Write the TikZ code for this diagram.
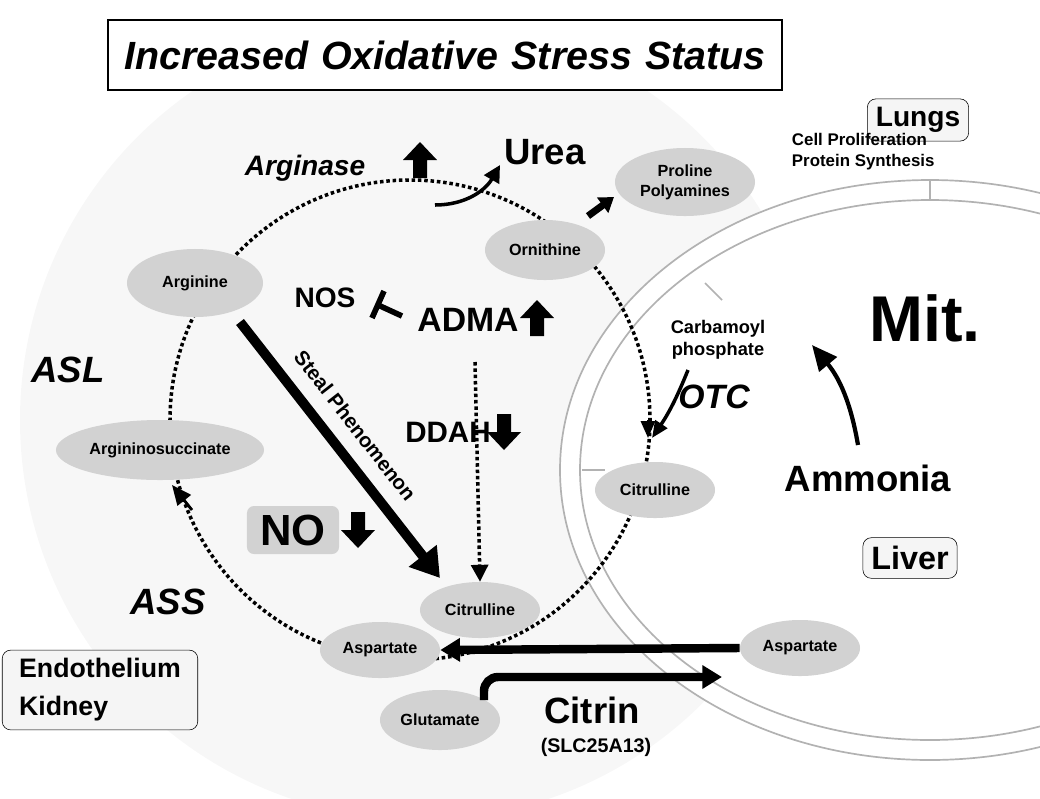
\documentclass[tikz,border=0pt]{standalone}
\usepackage{fontspec}
\setmainfont{Liberation Sans}
\usetikzlibrary{shapes.geometric,arrows.meta}
\begin{document}
\begin{tikzpicture}[x=0.025cm,y=-0.025cm,
  ov/.style={ellipse,fill=gray!35,inner sep=1pt,font=\bfseries\fontsize{11.5}{14}\selectfont},
  box/.style={draw,rounded corners=6pt,fill=gray!8,font=\bfseries\fontsize{20}{24}\selectfont,inner sep=6pt,align=left},
  dots/.style={line width=2.5pt,dotted},
  pics/fat/.style={code={\fill[black] (-7,18) -- (-7,0) -- (-17,0) -- (0,-18) -- (17,0) -- (7,0) -- (7,18) -- cycle;}}]
\useasboundingbox (0,0) rectangle (1040,798);
\fill[gray!6] (420,420) circle (400);
% mitochondrion
\begin{scope}
\clip (0,0) rectangle (1040,798);
\draw[gray!60,line width=1.2pt,fill=white] (930,470) ellipse (370 and 290);
\draw[gray!60,line width=1.2pt] (930,470) ellipse (350 and 270);
\draw[gray!60,line width=1.2pt] (705,283) -- (722,300);
\draw[gray!60,line width=1.2pt] (582,470) -- (605,470);
\draw[gray!60,line width=1.2pt] (930,180) -- (930,200);
\end{scope}
% title
\node[draw,line width=1.5pt,fill=white,text width=16.6cm,align=center,font=\bfseries\itshape\fontsize{28}{30}\selectfont,minimum height=1.75cm] (title) at (445,55) {Increased Oxidative Stress Status};
\node[box] (lungs) at (918,120) {Lungs};
\node[font=\bfseries\fontsize{12}{15}\selectfont,align=left,anchor=west] (cp) at (787,152) {Cell Proliferation\\Protein Synthesis};
% dotted cycle
\draw[dots] (410,420) circle (240);
% nodes
\node[ov,minimum width=3.4cm,minimum height=1.7cm] (arg) at (195,283) {Arginine};
\node[ov,minimum width=5.2cm,minimum height=1.5cm] (as) at (160,450) {Argininosuccinate};
\node[ov,minimum width=3cm,minimum height=1.5cm] (orn) at (545,250) {Ornithine};
\node[ov,minimum width=3.5cm,minimum height=1.7cm,align=center] (pro) at (685,182) {Proline\\Polyamines};
\node[ov,minimum width=3cm,minimum height=1.4cm] (cit2) at (655,490) {Citrulline};
\node[ov,minimum width=3cm,minimum height=1.4cm] (cit1) at (480,610) {Citrulline};
\node[ov,minimum width=3cm,minimum height=1.4cm] (asp1) at (380,650) {Aspartate};
\node[ov,minimum width=3cm,minimum height=1.4cm] (asp2) at (800,648) {Aspartate};
\node[ov,minimum width=3cm,minimum height=1.5cm] (glu) at (440,720) {Glutamate};
% cycle arrowheads
\draw[-{Triangle[length=14pt,width=12pt]},line width=2pt] (192,510) -- (172,485);
\draw[-{Triangle[length=12pt,width=10pt]},line width=2pt] (648,420) -- (648,438);
% labels
\node[font=\bfseries\itshape\fontsize{20}{23}\selectfont] (argase) at (305,168) {Arginase};
\pic at (420,160) {fat};
\node[font=\bfseries\fontsize{26}{30}\selectfont] (urea) at (545,152) {Urea};
\draw[-{Triangle[length=12pt,width=12pt]},line width=2.5pt] (435,205) to[out=0,in=240] (500,165);
\node[font=\bfseries\fontsize{20}{23}\selectfont] (nos) at (325,298) {NOS};
\node[font=\bfseries\fontsize{24}{28}\selectfont] (adma) at (468,320) {ADMA};
\pic at (537,318) {fat};
\coordinate (t1) at (402,316);
\draw[line width=4pt] (t1) -- (378,305);
\draw[line width=4pt] (384,291) -- (372,318);
\node[font=\bfseries\fontsize{21}{25}\selectfont] (ddah) at (448,432) {DDAH};
\pic[rotate=180] at (504,432) {fat};
\draw[dots,-{Triangle[length=12pt,width=12pt]}] (475,362) -- (cit1.north);
\node[font=\bfseries\itshape\fontsize{26}{29}\selectfont] (asl) at (68,370) {ASL};
\node[font=\bfseries\itshape\fontsize{26}{29}\selectfont] (ass) at (168,602) {ASS};
\node[fill=gray!35,rounded corners=5pt,font=\bfseries\fontsize{31}{35}\selectfont,minimum width=2.3cm,minimum height=1.2cm] (no) at (293,530) {NO};
\pic[rotate=180] at (358,530) {fat};
\draw[line width=7pt,-{Triangle[length=20pt,width=24pt]}] (240,322) -- (440,578) node[pos=0.47,sloped,above=7pt,font=\bfseries\fontsize{14.5}{17}\selectfont] {Steal Phenomenon};
\draw[line width=5pt,-{Triangle[length=10pt,width=13pt]}] (588,216) -- (614,197);
\node[font=\bfseries\fontsize{13}{16}\selectfont,align=center] (carb) at (718,340) {Carbamoyl\\phosphate};
\node[font=\bfseries\itshape\fontsize{24}{27}\selectfont] (otc) at (714,397) {OTC};
\draw[line width=2.5pt,-{Triangle[length=12pt,width=10pt]}] (688,370) to[bend left=6] (652,438);
\node[font=\bfseries\fontsize{46}{50}\selectfont] (mit) at (925,318) {Mit.};
\node[font=\bfseries\fontsize{26}{30}\selectfont] (amm) at (868,478) {Ammonia};
\draw[line width=3pt,-{Triangle[length=18pt,width=16pt]}] (858,445) to[bend right=15] (812,345);
\node[box,font=\bfseries\fontsize{23}{28}\selectfont] (liver) at (910,558) {Liver};
\node[box,font=\bfseries\fontsize{19}{27}\selectfont,inner xsep=12pt] (endo) at (100,690) {Endothelium\\Kidney};
\draw[line width=6pt,-{Triangle[length=14pt,width=16pt]}] (asp2.west) -- (asp1.east);
\coordinate (g1) at (484,700);
\draw[line width=6pt,rounded corners=10pt,-{Triangle[length=14pt,width=16pt]}] (g1) -- (484,677) -- (722,677);
\node[font=\bfseries\fontsize{26}{30}\selectfont] (citrin) at (592,710) {Citrin};
\node[font=\bfseries\fontsize{14}{17}\selectfont] (slc) at (596,747) {(SLC25A13)};
\end{tikzpicture}
\end{document}
